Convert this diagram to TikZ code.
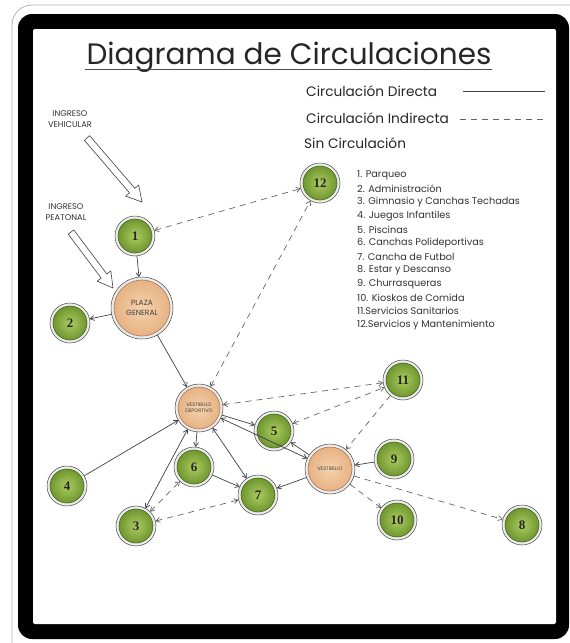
\documentclass[tikz,border=0pt]{standalone}
\usepackage{fontspec}
\setmainfont{Poppins}
\newfontfamily\numfont{Liberation Serif}
\usetikzlibrary{arrows.meta,calc,backgrounds}
\definecolor{glight}{RGB}{172,204,96}
\definecolor{gmid}{RGB}{112,150,48}
\definecolor{gdark}{RGB}{70,105,30}
\definecolor{olight}{RGB}{246,210,172}
\definecolor{omid}{RGB}{230,178,132}
\definecolor{odark}{RGB}{170,120,85}
\begin{document}
\begin{tikzpicture}[x=1pt,y=-1pt,
  >={Straight Barb[length=4pt,width=5pt]},
  gnode/.style={circle, minimum size=34pt, inner sep=0pt, outer sep=3pt,
    draw=gdark, line width=0.6pt, shading=radial, inner color=glight, outer color=gmid,
    font=\numfont\bfseries\fontsize{13}{13}\selectfont, text=black!85},
  onode/.style={circle, inner sep=0pt, outer sep=3pt, draw=odark, line width=0.6pt,
    shading=radial, inner color=olight, outer color=omid, align=center, text=black!75},
  ring/.style={fill=gray!15, draw=gray!55!black, line width=0.5pt},
  dirl/.style={draw=black!75, line width=0.7pt},
  indl/.style={draw=black!60, line width=0.7pt, dash pattern=on 6pt off 5pt},
  listtxt/.style={anchor=west, inner sep=0pt, font=\fontsize{9.7}{10}\selectfont, text=black!80},
  legtxt/.style={anchor=west, inner sep=0pt, font=\fontsize{13.7}{14}\selectfont, text=black!85},
  inglbl/.style={inner sep=0pt, align=center, font=\fontsize{8.3}{10.5}\selectfont, text=black!80},
  ingarrow/.style={fill=white, draw=black!75, line width=0.6pt, line join=miter}
]
\useasboundingbox (0,0) rectangle (570,643);
\begin{scope}[on background layer]
  \fill[white] (0,0) rectangle (570,643);
  \begin{scope}
    \clip (0,0) rectangle (570,643);
    \draw[gray!60, line width=0.8pt, rounded corners=20pt] (12,5) rectangle (640,700);
  \end{scope}
  \fill[black, rounded corners=14pt] (18,14) rectangle (569,639);
  \fill[white, rounded corners=2pt] (33,29) rectangle (556,624);
\end{scope}

% title
\node[inner sep=0pt, anchor=base, font=\fontsize{29.5}{30}\selectfont, text=black!85] (title) at (289,64) {Diagrama de Circulaciones};
\coordinate (ul1) at (85,69); \coordinate (ul2) at (492,69);
\draw[black!70, line width=0.8pt] (ul1) -- (ul2);

% legend
\node[legtxt] (lg1) at (306,91) {Circulación Directa};
\node[legtxt] (lg2) at (306,118) {Circulación Indirecta};
\node[legtxt] (lg3) at (304,143) {Sin Circulación};
\coordinate (ls1) at (463,91); \coordinate (ls2) at (545,91);
\coordinate (ld1) at (460,119); \coordinate (ld2) at (545,119);
\draw[dirl] (ls1) -- (ls2);
\draw[indl] (ld1) -- (ld2);

% list
\node[listtxt] (l1) at (357,175) {1. Parqueo};
\node[listtxt] (l2) at (357,188.6) {2. Administración};
\node[listtxt] (l3) at (357,202.2) {3. Gimnasio y Canchas Techadas};
\node[listtxt] (l4) at (357,215.8) {4. Juegos Infantiles};
\node[listtxt] (l5) at (357,229.4) {5. Piscinas};
\node[listtxt] (l6) at (357,243) {6. Canchas Polideportivas};
\node[listtxt] (l7) at (357,256.6) {7. Cancha de Futbol};
\node[listtxt] (l8) at (357,270.2) {8. Estar y Descanso};
\node[listtxt] (l9) at (357,283.8) {9. Churrasqueras};
\node[listtxt] (l10) at (357,297.4) {10. Kioskos de Comida};
\node[listtxt] (l11) at (357,311) {11.Servicios Sanitarios};
\node[listtxt] (l12) at (357,324.6) {12.Servicios y Mantenimiento};

% entrance labels and arrows
\node[inglbl] (iv) at (70,119) {INGRESO\\VEHICULAR};
\node[inglbl] (ip) at (66,212) {INGRESO\\PEATONAL};
\coordinate (va) at (87,138); \coordinate (vb) at (142,202);
\coordinate (vh) at ($(vb)!15pt!(va)$);
\draw[ingarrow] ($(va)!3.5pt!90:(vb)$) -- ($(vh)!3.5pt!90:(vb)$) -- ($(vh)!8.5pt!90:(vb)$) -- (vb)
  -- ($(vh)!8.5pt!-90:(vb)$) -- ($(vh)!3.5pt!-90:(vb)$) -- ($(va)!3.5pt!-90:(vb)$) -- cycle;
\coordinate (pa) at (71,232); \coordinate (pb) at (113,288);
\coordinate (ph) at ($(pb)!15pt!(pa)$);
\draw[ingarrow] ($(pa)!3.5pt!90:(pb)$) -- ($(ph)!3.5pt!90:(pb)$) -- ($(ph)!8.5pt!90:(pb)$) -- (pb)
  -- ($(ph)!8.5pt!-90:(pb)$) -- ($(ph)!3.5pt!-90:(pb)$) -- ($(pa)!3.5pt!-90:(pb)$) -- cycle;

% nodes
\node[gnode] (n1) at (135,236) {1};
\node[gnode] (n12) at (320,183) {12};
\node[onode, minimum size=56pt, font=\fontsize{7.5}{10}\selectfont] (plaza) at (142,308) {PLAZA\\GENERAL};
\node[gnode] (n2) at (70,323) {2};
\node[onode, minimum size=42pt, font=\fontsize{5}{6}\selectfont] (vd) at (199,408) {VESTIBULO\\DEPORTIVO};
\node[gnode] (n11) at (403,380) {11};
\node[gnode] (n5) at (274,431) {5};
\node[gnode] (n6) at (194,467) {6};
\node[gnode] (n4) at (67,486) {4};
\node[gnode] (n7) at (258,495) {7};
\node[onode, minimum size=44pt, font=\fontsize{5}{6}\selectfont] (v2) at (330,469) {VESTIBULO};
\node[gnode] (n9) at (394,459) {9};
\node[gnode] (n10) at (397,520) {10};
\node[gnode] (n8) at (522,525) {8};
\node[gnode] (n3) at (136,526) {3};

\begin{scope}[on background layer]
  \foreach \n/\r in {n1/20,n2/20,n3/20,n4/20,n5/20,n6/20,n7/20,n8/20,n9/20,n10/20,n11/20,n12/20,plaza/31,vd/24,v2/25}
    \draw[ring] (\n.center) circle[radius=\r pt];
\end{scope}

% direct circulation
\draw[dirl,->] (n1) -- (plaza);
\draw[dirl,->] (plaza) -- (n2);
\draw[dirl,->] (plaza) -- (vd);
\draw[dirl,->] (vd) -- (n5);
\draw[dirl,<->] (v2) -- (vd);
\draw[dirl,->] (v2) -- (n5);
\draw[dirl,->] (v2) -- (n7);
\draw[dirl,->] (n6) -- (n7);
\draw[dirl,->] (vd) -- (n6);
\draw[dirl,<->] (vd) -- (n7);
\draw[dirl,<->] (vd) -- (n3);
\draw[dirl,->] (n4) -- (vd);
\draw[dirl,->] (n9) -- (v2);

% indirect circulation
\draw[indl,<->] (n1) -- (n12);
\draw[indl,<->] (vd) -- (n12);
\draw[indl,<->] (vd) -- (n11);
\draw[indl,<->] (n5) -- (n11);
\draw[indl,->] (n11) -- (v2);
\draw[indl,->] (v2) -- (n10);
\draw[indl,->] (v2) -- (n8);
\draw[indl,<->] (n3) -- (n6);
\draw[indl,<->] (n3) -- (n7);
\end{tikzpicture}
\end{document}
